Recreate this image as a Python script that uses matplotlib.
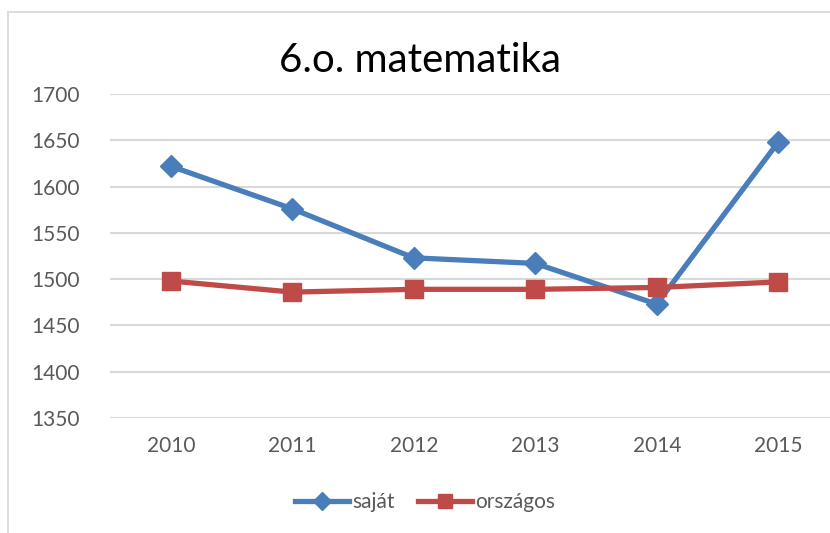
import matplotlib
matplotlib.use("Agg")
import matplotlib.pyplot as plt
from matplotlib.patches import Rectangle

years = ["2010", "2011", "2012", "2013", "2014", "2015"]
sajat = [1622, 1576, 1523, 1517, 1473, 1648]
orszagos = [1498, 1486, 1489, 1489, 1491, 1497]
yticks = [1350, 1400, 1450, 1500, 1550, 1600, 1650, 1700]
title = "6.o. matematika"

plt.rcParams['font.family'] = ['Lato', 'DejaVu Sans']

W, H = 830, 533
fig = plt.figure(figsize=(W / 100, H / 100), dpi=100)

# chart border
fig.patches.append(Rectangle((8 / W, -0.05), 1.1, 1 - 12 / H + 0.05, transform=fig.transFigure,
                             fill=False, edgecolor='#D9D9D9', linewidth=1.3))

left, right = 110 / W, 839 / W
bottom, top = 1 - 418 / H, 1 - 94 / H
ax = fig.add_axes([left, bottom, right - left, top - bottom])

x = list(range(len(years)))
ax.plot(x, sajat, color='#4A7EBB', linewidth=3.8, marker='D', markersize=11,
        label='saját', zorder=3, clip_on=False)
ax.plot(x, orszagos, color='#BE4B48', linewidth=3.8, marker='s', markersize=13,
        label='országos', zorder=3, clip_on=False)

ax.set_xlim(-0.5, len(years) - 0.5)
ax.set_ylim(1350, 1700)
ax.set_yticks(yticks)
ax.set_yticklabels([str(v) for v in yticks])
ax.set_xticks(x)
ax.set_xticklabels(years)
ax.grid(axis='y', color='#D9D9D9', linewidth=1.5)
ax.set_axisbelow(True)
for s in ax.spines.values():
    s.set_visible(False)
ax.tick_params(axis='both', length=0, labelsize=15, colors='#595959')
ax.tick_params(axis='y', pad=22)
ax.tick_params(axis='x', pad=13)
ax.set_facecolor('none')

fig.text(420 / W, 1 - 61 / H, title, ha='center', va='center', fontsize=29,
         color='black')

handles, labels = ax.get_legend_handles_labels()
leg = fig.legend(handles, labels, loc='center', bbox_to_anchor=(425 / W, 1 - 502 / H), ncol=2,
                 frameon=False, fontsize=15, handlelength=2.6, handletextpad=0.15,
                 columnspacing=1.1, markerscale=0.8)
for t in leg.get_texts():
    t.set_color('#595959')

fig.savefig('out.png', dpi=100)
